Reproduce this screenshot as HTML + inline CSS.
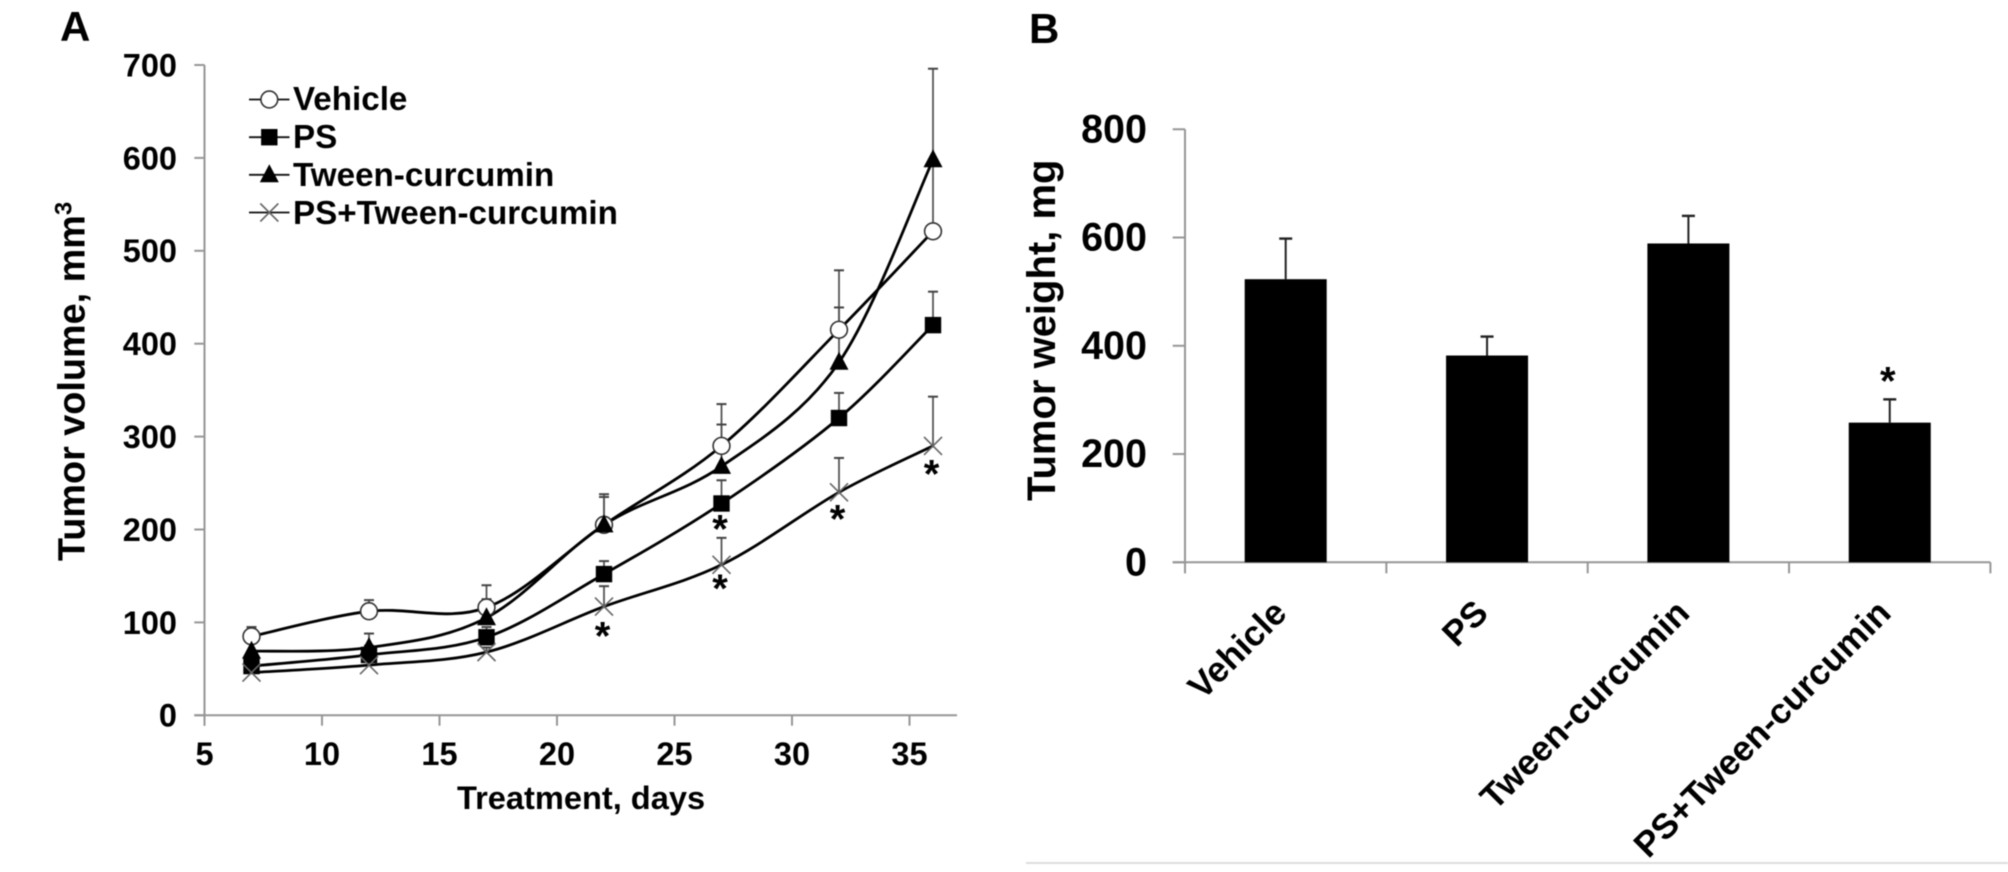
<!DOCTYPE html>
<html lang="en">
<head>
<meta charset="utf-8">
<title>Tumor volume and weight</title>
<style>
html,body{margin:0;padding:0;background:#fff;width:2008px;height:872px;overflow:hidden}
svg{display:block;filter:blur(0.45px)}
text{font-family:"Liberation Sans",Arial,sans-serif;font-weight:bold;fill:#000}
</style>
</head>
<body>
<svg id="figure" xmlns="http://www.w3.org/2000/svg" width="2008" height="872" viewBox="0 0 2008 872">
  <rect x="0" y="0" width="2008" height="872" fill="#fff"/>
  <text x="60" y="41" font-size="42">A</text>
  <text x="1029" y="43" font-size="42">B</text>
  <text transform="translate(84.5,561) rotate(-90)" font-size="37.8">Tumor volume, mm<tspan font-size="24" dy="-13">3</tspan></text>
  <text transform="translate(457,809)" font-size="32.6">Treatment, days</text>
  <text transform="translate(1055,501) rotate(-90)" font-size="40">Tumor weight, mg</text>
  <rect x="1026" y="862" width="982" height="2" fill="#dcdcdc"/>
  <g id="chartA"></g>
  <g id="legendA">
    <text transform="translate(293,110)" font-size="33.2">Vehicle</text>
    <text transform="translate(293,148)" font-size="33.2">PS</text>
    <text transform="translate(293,186)" font-size="33.2">Tween-curcumin</text>
    <text transform="translate(293,224)" font-size="33.2">PS+Tween-curcumin</text>
  </g>
  <g id="chartB"></g>
</svg>
<script>
// ---- Panel A data ----
const days = [7, 12, 17, 22, 27, 32, 36];
const vehicleVolume = [85, 112, 116, 205, 290, 415, 521];
const psVolume = [53, 65, 84, 152, 228, 320, 420];
const tweenVolume = [69, 73, 105, 205, 268, 380, 598];
const comboVolume = [46, 54, 68, 117, 162, 240, 290];
const vehicleError = [10, 12, 24, 33, 45, 64, 77];
const psError = [7, 10, 11, 14, 25, 27, 36];
const tweenError = [11, 15, 20, 30, 45, 59, 98];
const comboError = [5, 5, 5, 22, 29, 37, 53];
const volumeTicks = [0, 100, 200, 300, 400, 500, 600, 700];
const dayTicks = [5, 10, 15, 20, 25, 30, 35];
const starDays = [22, 27, 27, 32, 36];
const starVolumes = [92, 207, 143, 218, 266];
// ---- Panel B data ----
const groups = ['Vehicle', 'PS', 'Tween-curcumin', 'PS+Tween-curcumin'];
const tumorWeight = [523, 382, 589, 258];
const weightError = [75, 35, 51, 43];
const weightTicks = [0, 200, 400, 600, 800];
const weightStar = [346];

const NS = 'http://www.w3.org/2000/svg';
const GREY = '#969696';
const xA = d => 204.5 + (d - 5) * 23.5;
const yA = v => 715.3 - v * 0.929;
const yB = v => 562.3 - v * 0.5413;
const catB = i => 1185 + i * 201.35;

function mk(parent, tag, attrs, name, text) {
  const el = document.createElementNS(NS, tag);
  for (const k in attrs) el.setAttribute(k, attrs[k]);
  
  
  if (text !== undefined) el.textContent = text;
  parent.appendChild(el);
  return el;
}
function line(p, x1, y1, x2, y2, stroke, w, name) {
  return mk(p, 'line', {x1, y1, x2, y2, stroke, 'stroke-width': w}, name);
}
function smoothPath(pts) {
  let d = 'M' + pts[0][0].toFixed(1) + ' ' + pts[0][1].toFixed(1);
  for (let i = 0; i < pts.length - 1; i++) {
    const p0 = pts[Math.max(i - 1, 0)], p1 = pts[i], p2 = pts[i + 1], p3 = pts[Math.min(i + 2, pts.length - 1)];
    const c1x = p1[0] + (p2[0] - p0[0]) / 6, c1y = p1[1] + (p2[1] - p0[1]) / 6;
    const c2x = p2[0] - (p3[0] - p1[0]) / 6, c2y = p2[1] - (p3[1] - p1[1]) / 6;
    d += 'C' + c1x.toFixed(1) + ' ' + c1y.toFixed(1) + ' ' + c2x.toFixed(1) + ' ' + c2y.toFixed(1) + ' ' + p2[0].toFixed(1) + ' ' + p2[1].toFixed(1);
  }
  return d;
}
function marker(p, kind, x, y, name) {
  if (kind === 'circle') {
    mk(p, 'circle', {cx: x, cy: y, r: 8.4, fill: '#fff', stroke: '#333', 'stroke-width': 1.6}, name);
  } else if (kind === 'square') {
    mk(p, 'rect', {x: x - 8.2, y: y - 8.2, width: 16.4, height: 16.4, fill: '#000'}, name);
  } else if (kind === 'triangle') {
    mk(p, 'polygon', {points: (x) + ',' + (y - 10.5) + ' ' + (x + 9.5) + ',' + (y + 7.5) + ' ' + (x - 9.5) + ',' + (y + 7.5), fill: '#000'}, name);
  } else {
    mk(p, 'path', {d: 'M' + (x - 9) + ' ' + (y - 9) + 'L' + (x + 9) + ' ' + (y + 9) + 'M' + (x + 9) + ' ' + (y - 9) + 'L' + (x - 9) + ' ' + (y + 9), stroke: '#666', 'stroke-width': 1.6, fill: 'none'}, name);
  }
}
function label(p, x, y, str, size, anchor, name) {
  return mk(p, 'text', {transform: 'translate(' + x + ',' + y + ')', 'font-size': size, 'text-anchor': anchor}, name, str);
}
function star(p, x, y, name) {
  mk(p, 'text', {x: x, y: y + 19.5, 'font-size': 40, 'text-anchor': 'middle'}, name, '*');
}

// ---- Panel A ----
const A = document.getElementById('chartA');
line(A, xA(5), yA(700), xA(5), 725.7, GREY, 2, 'y-axis-line-a');
line(A, 194.3, yA(0), 957, yA(0), GREY, 2, 'x-axis-line-a');
volumeTicks.forEach(v => {
  line(A, 194.3, yA(v), xA(5), yA(v), GREY, 2, 'y-tick-a-' + v);
  label(A, 177, yA(v) + 11.4, String(v), 32.5, 'end', 'y-tick-label-a-' + v);
});
dayTicks.forEach(d => {
  line(A, xA(d), yA(0), xA(d), 725.7, GREY, 2, 'x-tick-a-' + d);
  label(A, xA(d), 765, String(d), 32.5, 'middle', 'x-tick-label-a-' + d);
});
const seriesDefs = [
  ['vehicle', vehicleVolume, vehicleError, 'circle'],
  ['ps', psVolume, psError, 'square'],
  ['tween-curcumin', tweenVolume, tweenError, 'triangle'],
  ['ps-tween-curcumin', comboVolume, comboError, 'cross']
];
seriesDefs.forEach(([name, vals, errs]) => {
  vals.forEach((v, i) => {
    const x = xA(days[i]);
    line(A, x, yA(v), x, yA(v + errs[i]), '#555', 1.8, 'error-bar-' + name + '-' + days[i]);
    line(A, x - 5, yA(v + errs[i]), x + 5, yA(v + errs[i]), '#444', 2, 'error-cap-' + name + '-' + days[i]);
  });
});
seriesDefs.forEach(([name, vals]) => {
  const pts = vals.map((v, i) => [xA(days[i]), yA(v)]);
  mk(A, 'path', {d: smoothPath(pts), fill: 'none', stroke: '#000', 'stroke-width': 2.8}, 'line-' + name);
});
seriesDefs.forEach(([name, vals, errs, kind]) => {
  vals.forEach((v, i) => marker(A, kind, xA(days[i]), yA(v), 'point-' + name + '-' + days[i]));
});
starDays.forEach((d, i) => {
  star(A, xA(d) - 1.5, yA(starVolumes[i]), 'significance-star-' + i);
});

// ---- Legend ----
const L = document.getElementById('legendA');
[['vehicle', 'circle', 99.5], ['ps', 'square', 137.2], ['tween-curcumin', 'triangle', 174.8], ['ps-tween-curcumin', 'cross', 212.5]].forEach(([name, kind, y]) => {
  line(L, 249, y, 289.5, y, '#111', 1.8, 'legend-line-' + name);
  marker(L, kind, 269.3, y, 'legend-marker-' + name);
});

// ---- Panel B ----
const B = document.getElementById('chartB');
line(B, catB(0), yB(800), catB(0), 573.3, GREY, 2, 'y-axis-line-b');
line(B, 1172.7, yB(0), catB(4), yB(0), GREY, 2, 'x-axis-line-b');
weightTicks.forEach(v => {
  line(B, 1172.7, yB(v), catB(0), yB(v), GREY, 2, 'y-tick-b-' + v);
  label(B, 1147, yB(v) + 13, String(v), 39.5, 'end', 'y-tick-label-b-' + v);
});
[0, 1, 2, 3, 4].forEach(i => line(B, catB(i), yB(0), catB(i), 573.3, GREY, 2, 'x-tick-b-' + i));
groups.forEach((g, i) => {
  const cx = catB(i) + 100.7;
  const key = g.toLowerCase().replace(/\+/g, '-');
  line(B, cx, yB(tumorWeight[i]), cx, yB(tumorWeight[i] + weightError[i]), '#222', 2, 'error-bar-' + key);
  line(B, cx - 6.5, yB(tumorWeight[i] + weightError[i]), cx + 6.5, yB(tumorWeight[i] + weightError[i]), '#222', 2.4, 'error-cap-' + key);
  mk(B, 'rect', {x: cx - 41, y: yB(tumorWeight[i]), width: 82, height: yB(0) - yB(tumorWeight[i]), fill: '#000'}, 'bar-' + key);
  mk(B, 'text', {transform: 'translate(' + (cx + 3) + ',615) rotate(-45)', 'font-size': 35.3, 'text-anchor': 'end'}, 'category-label-' + key, g);
});
star(B, catB(3) + 100.7 - 2, yB(weightStar[0]), 'significance-star-b');
</script>
</body>
</html>
